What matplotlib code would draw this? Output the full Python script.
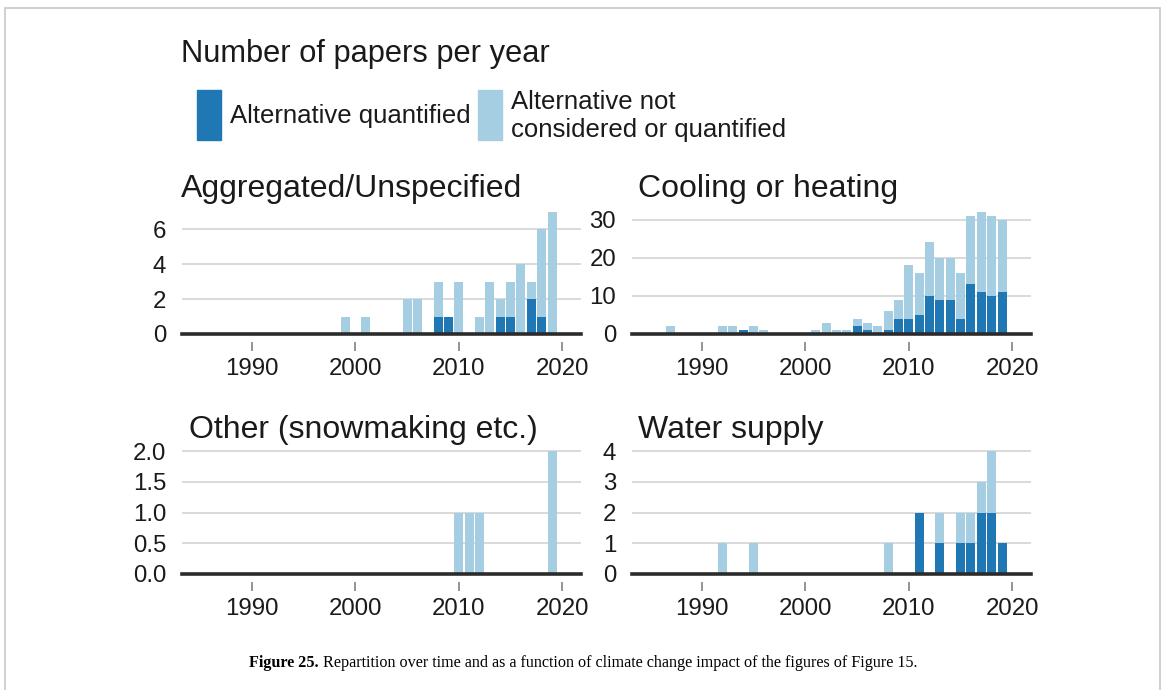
import matplotlib
matplotlib.use("Agg")
import matplotlib.pyplot as plt
from matplotlib.patches import Rectangle

# ---------------- data ----------------
panel_titles = ["Aggregated/Unspecified", "Cooling or heating",
                "Other (snowmaking etc.)", "Water supply"]

agg_years = [1999, 2001, 2005, 2006, 2008, 2009, 2010, 2012, 2013, 2014, 2015, 2016, 2017, 2018, 2019]
agg_quant = [0, 0, 0, 0, 1, 1, 0, 0, 0, 1, 1, 0, 2, 1, 0]
agg_total = [1, 1, 2, 2, 3, 1, 3, 1, 3, 2, 3, 4, 3, 6, 7]

cool_years = [1987, 1992, 1993, 1994, 1995, 1996, 2001, 2002, 2003, 2004, 2005, 2006, 2007,
              2008, 2009, 2010, 2011, 2012, 2013, 2014, 2015, 2016, 2017, 2018, 2019]
cool_quant = [0, 0, 0, 1, 0, 0, 0, 0, 0, 0, 2, 1, 0,
              1, 4, 4, 5, 10, 9, 9, 4, 13, 11, 10, 11]
cool_total = [2, 2, 2, 1, 2, 1, 1, 3, 1, 1, 4, 3, 2,
              6, 9, 18, 16, 24, 20, 20, 16, 31, 32, 31, 30]

other_years = [2010, 2011, 2012, 2019]
other_quant = [0, 0, 0, 0]
other_total = [1, 1, 1, 2]

water_years = [1992, 1995, 2008, 2011, 2013, 2015, 2016, 2017, 2018, 2019]
water_quant = [0, 0, 0, 2, 1, 1, 1, 2, 2, 1]
water_total = [1, 1, 1, 2, 2, 2, 2, 3, 4, 1]

yticks_list = [[0, 2, 4, 6], [0, 10, 20, 30], [0.0, 0.5, 1.0, 1.5, 2.0], [0, 1, 2, 3, 4]]
ytick_labels = [["0", "2", "4", "6"], ["0", "10", "20", "30"],
                ["0.0", "0.5", "1.0", "1.5", "2.0"], ["0", "1", "2", "3", "4"]]
ytops = [7.4, 33.8, 2.1, 4.2]
xticks = [1990, 2000, 2010, 2020]

legend_labels = ["Alternative quantified", "Alternative not\nconsidered or quantified"]
main_title = "Number of papers per year"
caption_bold = "Figure 25."
caption_rest = " Repartition over time and as a function of climate change impact of the figures of Figure 15."

DARK = "#1f78b4"
LIGHT = "#a6cee3"
GRID = "#d9d9d9"
TEXT = "#1a1a1a"

W, H = 1167, 690
plt.rcParams['font.family'] = ['Liberation Sans', 'DejaVu Sans']
fig = plt.figure(figsize=(W / 100, H / 100), dpi=100)
fig.patch.set_facecolor("white")

def fx(px):
    return px / W

def fy(py):
    return 1 - py / H

# panel rectangles in pixels: left, right, top(y for ytop), bottom(y for 0)
rects = [(182, 581, 205, 334), (632, 1031, 205, 334),
         (182, 581, 445, 574), (632, 1031, 445, 574)]
data = [(agg_years, agg_quant, agg_total), (cool_years, cool_quant, cool_total),
        (other_years, other_quant, other_total), (water_years, water_quant, water_total)]
title_pos = [(181, 197), (638, 197), (189, 438), (638, 438)]

for i in range(4):
    l, r, t, b = rects[i]
    ax = fig.add_axes([fx(l), fy(b), fx(r - l), (b - t) / H])
    years, q, tot = data[i]
    rest = [tt - qq for tt, qq in zip(tot, q)]
    ax.bar(years, q, width=0.87, color=DARK, linewidth=0, zorder=3)
    ax.bar(years, rest, bottom=q, width=0.87, color=LIGHT, linewidth=0, zorder=3)
    ax.set_xlim(1983.25, 2021.8)
    ax.set_ylim(0, ytops[i])
    for yv in yticks_list[i]:
        if yv != 0:
            ax.axhline(yv, color=GRID, lw=1.4, zorder=1)
    ax.axhline(0, color="#2b2b2b", lw=2.6, zorder=4, clip_on=False)
    for s in ["top", "right", "left"]:
        ax.spines[s].set_visible(False)
    ax.spines["bottom"].set_position(("outward", 6))
    ax.spines["bottom"].set_visible(False)
    ax.set_xticks(xticks)
    ax.set_xticklabels([str(x) for x in xticks])
    ax.set_yticks(yticks_list[i])
    ax.set_yticklabels(ytick_labels[i])
    ax.tick_params(axis="x", length=6.5, width=1.3, color="#8c8c8c", pad=4.5,
                   labelsize=17.3, labelcolor=TEXT)
    ax.tick_params(axis="y", length=0, pad=11.5, labelsize=17.3, labelcolor=TEXT)
    ax.set_facecolor("none")
    tx, ty = title_pos[i]
    fig.text(fx(tx), fy(ty), panel_titles[i], fontsize=23, color=TEXT, va="baseline", ha="left")

# main title
fig.text(fx(181), fy(62), main_title, fontsize=22.2, color=TEXT, va="baseline", ha="left")

# legend
fig.patches.append(Rectangle((fx(197), fy(140)), fx(24), 50 / H, transform=fig.transFigure,
                             color=DARK, zorder=2))
fig.patches.append(Rectangle((fx(478), fy(140)), fx(24), 50 / H, transform=fig.transFigure,
                             color=LIGHT, zorder=2))
fig.text(fx(230), fy(116), legend_labels[0], fontsize=18.5, color=TEXT, va="center", ha="left")
fig.text(fx(511), fy(116), legend_labels[1], fontsize=18.5, color=TEXT, va="center", ha="left",
         linespacing=1.26)

# frame around figure
fig.patches.append(Rectangle((fx(5), -0.05), fx(1155), fy(8) + 0.05, transform=fig.transFigure,
                             fill=False, edgecolor="#c8c8c8", lw=1.2, zorder=0))

# caption
fig.canvas.draw()
renderer = fig.canvas.get_renderer()
t1 = fig.text(0, fy(667), caption_bold, fontsize=11.6, fontweight="bold",
              family=["Liberation Serif", "DejaVu Serif"], color="black", va="baseline")
t2 = fig.text(0, fy(667), caption_rest, fontsize=11.6,
              family=["Liberation Serif", "DejaVu Serif"], color="black", va="baseline")
w1 = t1.get_window_extent(renderer).width
w2 = t2.get_window_extent(renderer).width
start = 583 - (w1 + w2) / 2
t1.set_x(start / W)
t2.set_x((start + w1) / W)

fig.savefig("out.png", dpi=100, facecolor="white")
